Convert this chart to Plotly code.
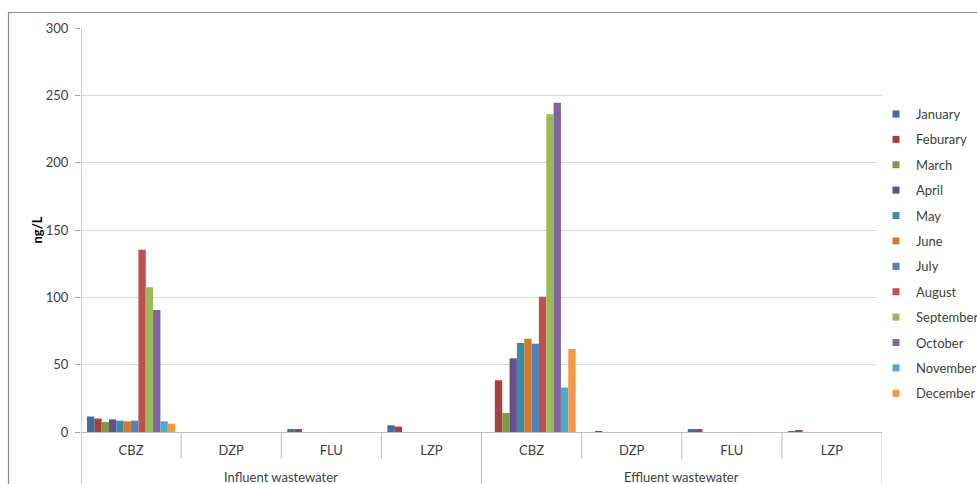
import plotly.graph_objects as go

groups = ["Influent wastewater"] * 4 + ["Effluent wastewater"] * 4
drugs = ["CBZ", "DZP", "FLU", "LZP"] * 2
months = ["January", "Feburary", "March", "April", "May", "June", "July",
          "August", "September", "October", "November", "December"]

january = [11.5, 0, 2.2, 5.0, 0, 0, 2.2, 0.6]
feburary = [10.0, 0, 2.2, 4.0, 38.4, 0.5, 2.2, 1.5]
march = [7.4, 0, 0, 0, 14.1, 0, 0, 0]
april = [9.4, 0, 0, 0, 54.7, 0, 0, 0]
may = [8.4, 0, 0, 0, 66.1, 0, 0, 0]
june = [7.9, 0, 0, 0, 69.3, 0, 0, 0]
july = [8.4, 0, 0, 0, 65.6, 0, 0, 0]
august = [135.4, 0, 0, 0, 100.5, 0, 0, 0]
september = [107.4, 0, 0, 0, 235.9, 0, 0, 0]
october = [90.6, 0, 0, 0, 244.5, 0, 0, 0]
november = [7.9, 0, 0, 0, 33.0, 0, 0, 0]
december = [6.2, 0, 0, 0, 61.6, 0, 0, 0]

series = [january, feburary, march, april, may, june, july, august,
          september, october, november, december]
colors = ["#3D6BA3", "#A4403D", "#7D9B45", "#65508A", "#3A8DA5", "#D27A30",
          "#4F81BD", "#C0504D", "#9BBB59", "#8064A2", "#4BACC6", "#F79646"]

yticks = [0, 50, 100, 150, 200, 250, 300]

keys = [f"{g}|{d}" for g, d in zip(groups, drugs)]
FONT = "Lato"
W, H = 977, 484
ML, MR, MT, MB = 81, 95, 28, 52
PH = H - MT - MB
PW = W - ML - MR

fig = go.Figure()
for name, vals, col in zip(months, series, colors):
    fig.add_trace(go.Bar(x=keys, y=vals, name=name, marker_color=col,
                         marker_line_width=0, showlegend=False))
for name, col in zip(months, colors):
    fig.add_trace(go.Scatter(x=[None], y=[None], mode="markers", name=name,
                             legendgroup=name,
                             marker=dict(symbol="square", size=7, color=col)))

shapes = []
# y axis line extended down through the label area
shapes.append(dict(type="line", xref="x", yref="paper", x0=-0.5, x1=-0.5,
                   y0=1, y1=-MB / PH, line=dict(color="#A6A6A6", width=1)))
# dividers
n = len(keys)
for i in range(1, n + 1):
    xpos = i - 0.5
    outer = (i == n) or (groups[i] != groups[i - 1])
    y1 = -MB / PH if outer else -27 / PH
    shapes.append(dict(type="line", xref="x", yref="paper", x0=xpos, x1=xpos,
                       y0=0, y1=y1, line=dict(color="#BFBFBF", width=1)))
# chart area border
shapes.append(dict(type="rect", xref="paper", yref="paper",
                   x0=(8.5 - ML) / PW, x1=(W + 5 - ML) / PW,
                   y0=-(MB + 5) / PH, y1=1 + (MT - 12.5) / PH,
                   line=dict(color="#8C8C8C", width=1.2)))

annotations = []
seen = []
for g in groups:
    if g not in seen:
        seen.append(g)
for g in seen:
    idx = [i for i, gg in enumerate(groups) if gg == g]
    center = (idx[0] + idx[-1]) / 2
    annotations.append(dict(x=center, xref="x", y=-45 / PH, yref="paper",
                            text=g, showarrow=False, yanchor="middle",
                            font=dict(family=FONT, size=13, color="#404040")))

fig.update_layout(
    width=W, height=H,
    margin=dict(l=ML, r=MR, t=MT, b=MB, autoexpand=False),
    paper_bgcolor="white", plot_bgcolor="white",
    barmode="group", bargap=0.12, bargroupgap=0,
    font=dict(family=FONT, size=13, color="#404040"),
    shapes=shapes, annotations=annotations,
    legend=dict(x=(876 - ML) / PW, xanchor="left", y=1 - (99 - MT) / PH,
                yanchor="top", traceorder="grouped", tracegroupgap=5.5,
                font=dict(family=FONT, size=13, color="#404040"),
                itemsizing="trace"),
)
fig.update_xaxes(type="category", tickvals=keys, ticktext=drugs,
                 showline=True, linecolor="#BFBFBF", ticks="", showgrid=False,
                 range=[-0.5, n - 0.5], ticklabelstandoff=6, automargin=False,
                 tickfont=dict(family=FONT, size=13, color="#404040"))
fig.update_yaxes(range=[0, 300], tickvals=yticks, showgrid=True,
                 gridcolor="#D9D9D9", gridwidth=1, zeroline=False,
                 showline=False, ticks="outside", ticklen=5, tickcolor="#A6A6A6",
                 ticklabelstandoff=4, automargin=False,
                 title=dict(text="<b>ng/L</b>", standoff=0,
                            font=dict(family=FONT, size=13, color="#000000")),
                 tickfont=dict(family=FONT, size=13, color="#404040"))

fig.write_html("out.html",
               config={"displayModeBar": False},
               post_script="document.body.style.margin='0';"
                           "document.body.style.overflow='hidden';")
